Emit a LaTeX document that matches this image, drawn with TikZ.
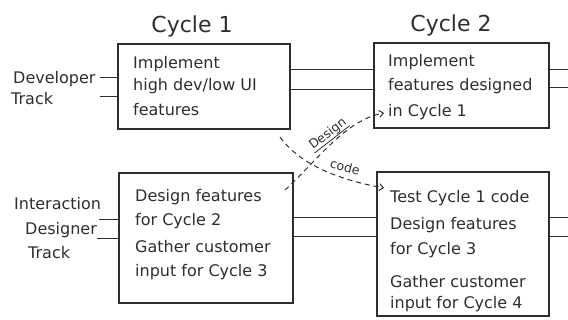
\documentclass[tikz,border=0pt]{standalone}
\usepackage{fontspec}
\setmainfont{DejaVu Sans}
\usetikzlibrary{arrows.meta}
\definecolor{ink}{HTML}{2E2E2E}
\begin{document}
\begin{tikzpicture}[x=1pt,y=-1pt,
  box/.style={draw=ink,line width=1.2pt,anchor=north west,inner sep=0pt,outer sep=0pt},
  txt/.style={anchor=base west,inner sep=0pt,text=ink,font=\fontsize{16}{18}\selectfont},
  title/.style={anchor=base,inner sep=0pt,text=ink,font=\fontsize{22}{24}\selectfont},
  side/.style={anchor=base west,inner sep=0pt,text=ink,font=\fontsize{16}{18}\selectfont},
  tag/.style={inner sep=0.5pt,text=ink,font=\fontsize{12.5}{14}\selectfont},
  track/.style={draw=ink,line width=1pt},
  flow/.style={draw=ink,line width=1pt,dashed,dash pattern=on 5pt off 4pt,-{Straight Barb[length=4pt,width=7pt]}}]
\useasboundingbox (0,0) rectangle (568,320);

% cycle headings
\node[title] (h1) at (192,33) {Cycle 1};
\node[title] (h2) at (451,32) {Cycle 2};

% the four work boxes
\node[box,minimum width=172pt,minimum height=85pt] (A) at (118,44) {};
\node[box,minimum width=175pt,minimum height=85pt] (B) at (374,43) {};
\node[box,minimum width=174pt,minimum height=130pt] (C) at (119,173) {};
\node[box,minimum width=172pt,minimum height=144pt] (D) at (377,172) {};

% track names
\node[side] (dev1) at (13,84) {Developer};
\node[side] (dev2) at (11,105) {Track};
\node[side] (ixd1) at (14,210) {Interaction};
\node[side] (ixd2) at (25,235) {Designer};
\node[side] (ixd3) at (28,259) {Track};

% box contents
\node[txt] (a1) at (133,69) {Implement};
\node[txt] (a2) at (133,91) {high dev/low UI};
\node[txt] (a3) at (133,116) {features};

\node[txt] (b1) at (388,67) {Implement};
\node[txt] (b2) at (388,91) {features designed};
\node[txt] (b3) at (388,117) {in Cycle 1};

\node[txt] (c1) at (135,202) {Design features};
\node[txt] (c2) at (135,226) {for Cycle 2};
\node[txt] (c3) at (135,253) {Gather customer};
\node[txt] (c4) at (135,277) {input for Cycle 3};

\node[txt] (d1) at (390,203) {Test Cycle 1 code};
\node[txt] (d2) at (390,230) {Design features};
\node[txt] (d3) at (390,255) {for Cycle 3};
\node[txt] (d4) at (390,288) {Gather customer};
\node[txt] (d5) at (390,309) {input for Cycle 4};

% free ends of the track lines
\coordinate (inA1) at (100,78);
\coordinate (inA2) at (100,97);
\coordinate (inC1) at (99,220);
\coordinate (inC2) at (97,239);
\coordinate (outB1) at (568,70);
\coordinate (outB2) at (568,88);
\coordinate (outD1) at (568,218);
\coordinate (outD2) at (568,237);

% developer track
\draw[track] (inA1) -- (A.west |- inA1);
\draw[track] (inA2) -- (A.west |- inA2);
\draw[track] (A.east |- 0,70) -- (B.west |- 0,70);
\draw[track] (A.east |- 0,90) -- (B.west |- 0,90);
\draw[track] (B.east |- outB1) -- (outB1);
\draw[track] (B.east |- outB2) -- (outB2);

% interaction designer track
\draw[track] (inC1) -- (C.west |- inC1);
\draw[track] (inC2) -- (C.west |- inC2);
\draw[track] (C.east |- outD1) -- (D.west |- outD1);
\draw[track] (C.east |- outD2) -- (D.west |- outD2);
\draw[track] (D.east |- outD1) -- (outD1);
\draw[track] (D.east |- outD2) -- (outD2);

% hand-offs between the tracks
\coordinate (dsgS) at (285,190);
\coordinate (dsgE) at (384,113);
\coordinate (codS) at (280,137);
\coordinate (codE) at (384,188);
\draw[flow] (dsgS) .. controls (315,163) and (345,120) .. (dsgE);
\draw[flow] (codS) .. controls (300,165) and (340,180) .. (codE);
\node[tag,rotate=38] (dsgL) at (328,134) {Design};
\draw[ink,line width=0.8pt] (dsgL.south west) -- (dsgL.south east);
\node[tag,rotate=-14] (codL) at (345,167) {code};
\end{tikzpicture}
\end{document}
